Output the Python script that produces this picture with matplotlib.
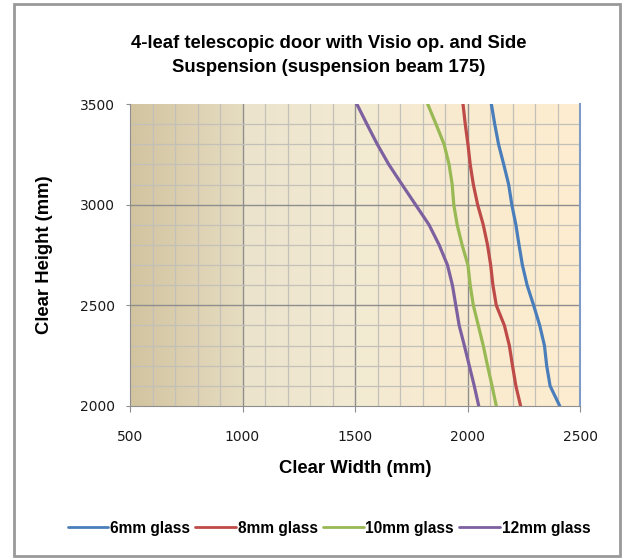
import matplotlib.pyplot as plt
import numpy as np
from matplotlib.colors import LinearSegmentedColormap
from matplotlib.patches import Rectangle

# clear height steps (mm)
heights = [3500, 3400, 3300, 3200, 3100, 3000, 2900, 2800,
           2700, 2600, 2500, 2400, 2300, 2200, 2100, 2000]

# clear width (mm) for each glass thickness
width_6mm = [2106, 2121, 2138, 2161, 2183, 2197, 2215, 2229,
             2244, 2265, 2294, 2321, 2342, 2352, 2367, 2410]
width_8mm = [1980, 1990, 2002, 2012, 2026, 2045, 2070, 2089,
             2103, 2113, 2128, 2164, 2186, 2200, 2215, 2236]
width_10mm = [1823, 1860, 1896, 1918, 1932, 1939, 1954, 1976,
              2002, 2012, 2026, 2048, 2070, 2089, 2109, 2128]
width_12mm = [1508, 1553, 1599, 1650, 1709, 1769, 1829, 1874,
              1911, 1933, 1948, 1963, 1986, 2008, 2030, 2050]

labels = ["6mm glass", "8mm glass", "10mm glass", "12mm glass"]
colors = ["#4a7ebb", "#be4b48", "#98b954", "#7d60a0"]

fig = plt.figure(figsize=(6.26, 5.59), dpi=100)
ax = fig.add_axes([130 / 626, 1 - 406 / 559, 450 / 626, 302 / 559])

# background gradient, tan on the left to pale cream on the right
bg = LinearSegmentedColormap.from_list(
    "bg",
    [(0.0, "#d3c4a0"), (0.249, "#e6dcc0"), (0.251, "#ebe3cb"),
     (0.5, "#f3ead3"), (0.75, "#f9ebcf"), (1.0, "#feedcf")],
)
grad = np.linspace(0, 1, 400).reshape(1, -1)
ax.imshow(grad, cmap=bg, aspect="auto", extent=[500, 2500, 2000, 3500],
          zorder=0, interpolation="bilinear")

# grid: minor every 100, major on the labelled values
for x in range(600, 2500, 100):
    major = x in (1000, 1500, 2000)
    ax.axvline(x, color="#8e8e8e" if major else "#c3c0ba",
               lw=1.0 if major else 0.9, zorder=1)
for y in range(2100, 3500, 100):
    major = y in (2500, 3000)
    ax.axhline(y, color="#8e8e8e" if major else "#c3c0ba",
               lw=1.0 if major else 0.9, zorder=1)

series = [width_6mm, width_8mm, width_10mm, width_12mm]
for w, lab, col in zip(series, labels, colors):
    ax.plot(w, heights, color=col, lw=2.3, label=lab, zorder=3,
            solid_capstyle="round", solid_joinstyle="round")

ax.set_xlim(500, 2500)
ax.set_ylim(2000, 3500)
ax.set_xticks([500, 1000, 1500, 2000, 2500])
ax.set_yticks([2000, 2500, 3000, 3500])

ax.spines["top"].set_visible(False)
ax.spines["right"].set_color("#7f9cc8")
ax.spines["right"].set_linewidth(1.5)
ax.spines["left"].set_color("#8e8e8e")
ax.spines["bottom"].set_color("#8e8e8e")
ax.tick_params(axis="x", direction="out", length=4.5, color="#8e8e8e",
               labelsize=10, labelcolor="#1a1a1a", pad=12.5)
ax.tick_params(axis="y", direction="out", length=3, color="#8e8e8e",
               labelsize=10, labelcolor="#1a1a1a", pad=8)
for t in ax.get_xticklabels() + ax.get_yticklabels():
    t.set_family("DejaVu Sans")

ax.set_xlabel("Clear Width (mm)", fontsize=13.3, fontweight="bold",
              family="Liberation Sans", labelpad=12)
ax.set_ylabel("Clear Height (mm)", fontsize=13.3, fontweight="bold",
              family="Liberation Sans", labelpad=19.5)

fig.text(329 / 626, 1 - 44 / 559, "4-leaf telescopic door with Visio op. and Side",
         ha="center", va="center", fontsize=13.3, fontweight="bold",
         family="Liberation Sans")
fig.text(329 / 626, 1 - 68 / 559, "Suspension (suspension beam 175)",
         ha="center", va="center", fontsize=13.3, fontweight="bold",
         family="Liberation Sans")

leg = fig.legend(loc="center", bbox_to_anchor=(329 / 626, 1 - 528 / 559),
                 ncol=4, frameon=False, handlelength=2.6, handletextpad=0.12,
                 columnspacing=0.35, prop={"family": "Liberation Sans",
                                           "weight": "bold", "size": 11.2})
for line in leg.get_lines():
    line.set_linewidth(2.0)

# outer chart border
fig.patches.append(Rectangle((14 / 626, 1 - 556 / 559), 606 / 626, 552 / 559,
                             transform=fig.transFigure, fill=False,
                             edgecolor="#999999", lw=2))

fig.savefig("out.png", dpi=100)
